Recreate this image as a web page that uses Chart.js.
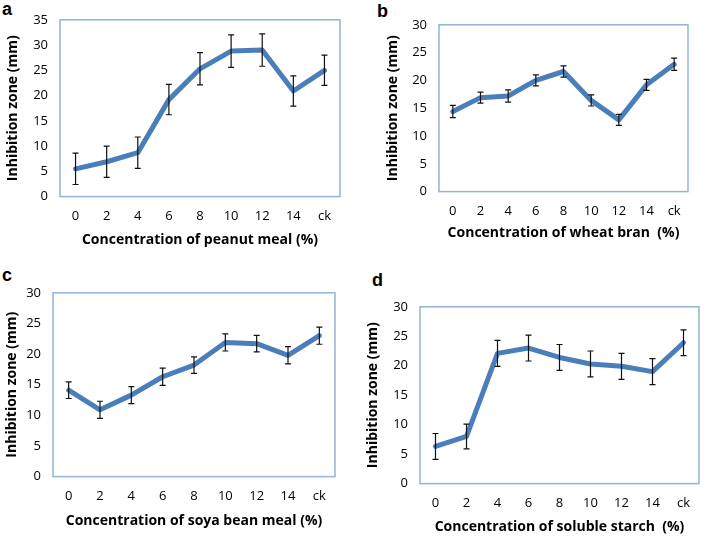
<!DOCTYPE html>
<html>
<head>
<meta charset="utf-8">
<script src="https://cdn.jsdelivr.net/npm/chart.js@4.4.1/dist/chart.umd.min.js"></script>
<style>
  body { margin: 0; background: #fff; }
  #page { position: relative; width: 705px; height: 536px; overflow: hidden; background: #fff; }
  .panel { position: absolute; }
  .tag { position: absolute; font: bold 18px "Liberation Sans", Arial, sans-serif; color: #000; line-height: 1; }
</style>
</head>
<body>
<div id="page">
  <div class="tag" style="left:2px;top:0px">a</div>
  <div class="tag" style="left:377px;top:2px">b</div>
  <div class="tag" style="left:2px;top:266px">c</div>
  <div class="tag" style="left:372px;top:271px">d</div>
</div>
<script>
// shared x categories
const categories = ["0", "2", "4", "6", "8", "10", "12", "14", "ck"];

// a - peanut meal
const peanutMeal = [5.5, 6.9, 8.7, 19.2, 25.3, 28.8, 29.0, 20.9, 25.0];
const peanutMealErr = [3.1, 3.1, 3.1, 3.0, 3.2, 3.2, 3.2, 3.0, 3.0];

// b - wheat bran
const wheatBran = [14.4, 16.9, 17.2, 20.0, 21.6, 16.4, 12.9, 19.2, 22.9];
const wheatBranErr = [1.1, 1.0, 1.1, 1.0, 1.0, 1.0, 1.0, 1.0, 1.1];

// c - soya bean meal
const soyaBeanMeal = [14.1, 10.9, 13.3, 16.3, 18.2, 21.9, 21.7, 19.8, 23.0];
const soyaBeanMealErr = [1.35, 1.4, 1.4, 1.4, 1.35, 1.4, 1.35, 1.4, 1.4];

// d - soluble starch
const solubleStarch = [6.3, 8.0, 22.1, 23.0, 21.4, 20.3, 19.9, 19.0, 23.9];
const solubleStarchErr = [2.2, 2.1, 2.2, 2.2, 2.2, 2.2, 2.2, 2.2, 2.2];

const yTitle = "Inhibition zone (mm)";

// ========== Panel layout (plot box in page pixels) ==========
const panels = [
  { values: peanutMeal, errors: peanutMealErr, yMax: 35, xTitle: "Concentration of peanut meal (%)",
    box: { l: 60, t: 10, r: 340, b: 197 }, titleX: 13, xTitleY: 240 },
  { values: wheatBran, errors: wheatBranErr, yMax: 30, xTitle: "Concentration of wheat bran  (%)",
    box: { l: 439, t: 15, r: 688, b: 192 }, titleX: 393, xTitleY: 233 },
  { values: soyaBeanMeal, errors: soyaBeanMealErr, yMax: 30, xTitle: "Concentration of soya bean meal (%)",
    box: { l: 53, t: 283, r: 335, b: 477 }, titleX: 12, xTitleY: 521 },
  { values: solubleStarch, errors: solubleStarchErr, yMax: 30, xTitle: "Concentration of soluble starch  (%)",
    box: { l: 420, t: 297, r: 699, b: 484 }, titleX: 373, xTitleY: 527 },
];

const titleFont = { family: "'Open Sans'", size: 14, weight: "bold", lineHeight: 1.2 };
const tickFont = { family: "'Open Sans'", size: 13, lineHeight: 1.2 };

// frame around the plot area
const boxPlugin = {
  id: "plotBox",
  afterDraw(chart) {
    const { ctx, chartArea: a } = chart;
    ctx.save();
    ctx.strokeStyle = "#95B3D7";
    ctx.lineWidth = 1.5;
    ctx.strokeRect(a.left, a.top, a.right - a.left, a.bottom - a.top);
    ctx.restore();
  },
};

// error bars drawn from the data through the chart scales
const errorBarPlugin = {
  id: "errorBars",
  afterDatasetsDraw(chart) {
    const { ctx, scales } = chart;
    const ds = chart.data.datasets[0];
    ctx.save();
    ctx.strokeStyle = "#111";
    ctx.lineWidth = 1.2;
    ds.data.forEach((v, i) => {
      const e = ds.errors[i];
      const x = scales.x.getPixelForValue(i);
      const yTop = scales.y.getPixelForValue(v + e);
      const yBot = scales.y.getPixelForValue(v - e);
      ctx.beginPath();
      ctx.moveTo(x, yTop);
      ctx.lineTo(x, yBot);
      ctx.moveTo(x - 3, yTop);
      ctx.lineTo(x + 3, yTop);
      ctx.moveTo(x - 3, yBot);
      ctx.lineTo(x + 3, yBot);
      ctx.stroke();
    });
    ctx.restore();
  },
};

function buildPanel(p) {
  const padTop = 10;
  const padRight = 8;
  const divLeft = p.titleX - 14;
  const divTop = p.box.t - padTop;
  const yw = p.box.l - divLeft;
  const xTitlePadBottom = 4;
  const divBottom = p.xTitleY + (titleFont.size * titleFont.lineHeight) / 2 + xTitlePadBottom;
  const xh = divBottom - p.box.b;
  const width = p.box.r - divLeft + padRight;
  const height = divBottom - divTop;

  const holder = document.createElement("div");
  holder.className = "panel";
  holder.style.left = divLeft + "px";
  holder.style.top = divTop + "px";
  const canvas = document.createElement("canvas");
  canvas.width = width;
  canvas.height = height;
  canvas.style.width = width + "px";
  canvas.style.height = height + "px";
  holder.appendChild(canvas);
  document.getElementById("page").appendChild(holder);

  new Chart(canvas.getContext("2d"), {
    type: "line",
    data: {
      labels: categories,
      datasets: [
        {
          data: p.values,
          errors: p.errors,
          borderColor: "#4A7EBB",
          borderWidth: 5,
          pointRadius: 0,
          tension: 0,
          borderJoinStyle: "round",
          borderCapStyle: "round",
          fill: false,
        },
      ],
    },
    options: {
      responsive: false,
      animation: false,
      devicePixelRatio: 1,
      layout: { padding: { top: padTop, right: padRight, left: 0, bottom: 0 } },
      plugins: { legend: { display: false }, tooltip: { enabled: false } },
      scales: {
        x: {
          offset: true,
          grid: { display: false, drawTicks: false },
          border: { display: false },
          ticks: { color: "#000", font: tickFont, padding: 12, maxRotation: 0, autoSkip: false },
          title: { display: true, text: p.xTitle, color: "#000", font: titleFont, padding: { top: 0, bottom: xTitlePadBottom } },
          afterFit(s) { s.height = xh; },
        },
        y: {
          min: 0,
          max: p.yMax,
          grid: { display: false, drawTicks: false },
          border: { display: false },
          ticks: { stepSize: 5, color: "#000", font: tickFont, padding: 12 },
          title: { display: true, text: yTitle, color: "#000", font: titleFont, padding: { top: 14 - (titleFont.size * titleFont.lineHeight) / 2, bottom: 0 } },
          afterFit(s) { s.width = yw; },
        },
      },
    },
    plugins: [errorBarPlugin, boxPlugin],
  });
}

panels.forEach(buildPanel);
</script>
</body>
</html>
